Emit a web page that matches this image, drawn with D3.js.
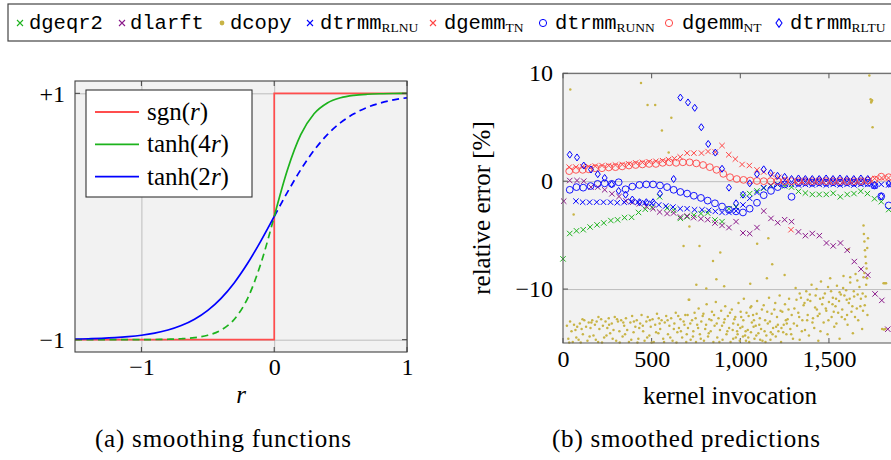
<!DOCTYPE html>
<html>
<head>
<meta charset="utf-8">
<script src="https://cdn.jsdelivr.net/npm/d3@7"></script>
<style>
body { margin: 0; background: #fff; }
svg { display: block; }
</style>
</head>
<body>
<script>
// ---------- data: (a) smoothing functions ----------
var rVals  = [-1.5,-1.4,-1.3,-1.2,-1.1,-1.0,-0.9,-0.8,-0.7,-0.6,-0.5,-0.4,-0.3,-0.2,-0.1,0,0.1,0.2,0.3,0.4,0.5,0.6,0.7,0.8,0.9,1.0];
var tanh4v = [-1.0,-1.0,-0.9999,-0.9999,-0.9997,-0.9993,-0.9985,-0.9967,-0.9926,-0.9837,-0.964,-0.9217,-0.8337,-0.664,-0.3799,0,0.3799,0.664,0.8337,0.9217,0.964,0.9837,0.9926,0.9967,0.9985,0.9993];
var tanh2v = [-0.9951,-0.9926,-0.989,-0.9837,-0.9757,-0.964,-0.9468,-0.9217,-0.8854,-0.8337,-0.7616,-0.664,-0.537,-0.3799,-0.1974,0,0.1974,0.3799,0.537,0.664,0.7616,0.8337,0.8854,0.9217,0.9468,0.964];
var sgnR = [-1.5, 0, 0, 1];
var sgnV = [-1, -1, 1, 1];
var fnTicksX = [-1, 0, 1], fnTickLabX = ["\u22121", "0", "1"];
var fnTicksY = [-1, 1],    fnTickLabY = ["\u22121", "+1"];

// ---------- data: (b) smoothed predictions ----------
var errTicksX = [0, 500, 1000, 1500], errTickLabX = ["0", "500", "1,000", "1,500"];
var errTicksY = [-10, 0, 10],         errTickLabY = ["\u221210", "0", "10"];

var geqr2X = [0,38,76,114,153,192,230,270,308,347,387,426,464,503,545,587,624,662,700,738,778,816,857,897,936,976,1015,1053,1094,1132,1173,1211,1250,1289,1328,1367,1406,1445,1485,1524,1564,1603,1641,1679,1717,1757,1795,1837];
var geqr2Y = [-7.2,-4.85,-4.6,-4.5,-4.25,-4.05,-3.87,-3.65,-3.58,-3.38,-3.35,-2.9,-2.6,-2.42,-1.45,-2.5,-2.7,-3.45,-3.3,-3.15,-3.0,-2.95,-3.6,-3.75,-2.55,-2.4,-1.3,-1.15,-0.9,-0.65,-0.4,-0.3,-0.45,-0.55,-0.95,-1.1,-1.23,-1.23,-1.23,-1.12,-1.45,-1.23,-1.15,-0.93,-1.15,-1.63,-1.9,-2.63];

var larftX = [4,38,79,117,158,196,235,276,316,355,393,431,470,508,545,587,624,662,700,737,778,816,857,897,936,976,1015,1053,1094,1132,1173,1211,1250,1289,1328,1367,1406,1446,1486,1524,1565,1603,1643,1681,1719,1760,1798,1832];
var larftY = [-1.85,0.06,0.06,0.0,-0.55,-0.55,-0.8,-1.17,-1.42,-1.85,-1.95,-2.1,-2.34,-2.55,-2.86,-3.0,-2.95,-3.32,-3.23,-3.38,-3.48,-3.57,-3.88,-4.1,-4.3,-3.75,-4.8,-4.86,-4.3,-2.77,-3.45,-3.85,-3.57,-3.75,-4.7,-5.05,-4.85,-5.05,-5.73,-6.0,-5.73,-6.4,-7.45,-8.15,-8.7,-10.45,-11.05,-13.72];

var rlnuX = [73,111,150,190,228,268,306,345,384,423,462,500,540,580,620,661,700,742,784,822,859,897,936,976,1015,1053,1094,1132,1171,1210,1250,1289,1328,1367,1406,1445,1485,1524,1563,1602,1641,1680,1719,1757,1795,1837];
var rlnuY = [-1.85,-1.95,-1.95,-1.95,-1.95,-1.95,-2.0,-1.95,-1.9,-1.95,-2.0,-2.05,-2.2,-2.3,-2.4,-2.55,-2.55,-2.65,-2.65,-2.7,-2.8,-2.9,-2.9,-2.75,-2.2,-1.6,-1.05,-0.6,-0.4,-0.3,-0.25,-0.3,-0.35,-0.3,-0.35,-0.3,-0.35,-0.3,-0.35,-0.3,-0.35,-0.3,-0.3,-0.45,-0.3,-0.35];

var gemmTNX = [35,73,111,145,182,220,258,296,334,372,410,448,486,524,562,595,628,661,700,738,781,818,859,897,935,972,1010,1051,1094,1132,1179,1217,1254,1286,1328,1367,1406,1445,1484,1523,1562,1601,1640,1680,1719,1758,1797,1836];
var gemmTNY = [1.3,1.3,1.35,1.35,1.4,1.45,1.45,1.5,1.55,1.6,1.7,1.75,1.8,1.85,1.9,2.0,2.1,2.25,2.6,2.6,2.6,2.75,2.7,3.3,2.45,2.05,1.55,1.45,1.05,0.85,0.6,0.35,0.15,-4.5,0.05,0.05,0.0,0.05,0.05,0.0,0.05,0.05,0.0,0.05,0.05,0.25,0.3,0.3];

var runnX = [38,76,114,155,195,235,275,314,353,391,431,470,508,547,587,624,662,700,738,778,816,857,897,936,976,1015,1053,1094,1132,1173,1211,1250,1289,1328,1367,1406,1445,1484,1523,1562,1601,1640,1680,1719,1757,1795,1837];
var runnY = [-0.8,-0.55,-0.6,-0.45,-0.25,-0.2,-0.25,-0.1,-0.75,-0.5,-0.35,-0.3,-0.3,-0.4,-0.55,-0.8,-1.0,-1.15,-1.35,-1.55,-1.8,-2.05,-2.35,-2.65,-2.8,-2.9,-2.55,-2.0,-1.3,-0.9,-0.55,-0.3,-1.45,-0.15,-0.1,-0.15,-0.1,-0.15,-0.1,-0.15,-0.1,-0.15,-0.1,-0.15,-0.4,-1.4,-2.25];

var gemmNTX = [35,73,111,145,182,220,258,296,334,372,410,448,486,524,562,600,638,676,714,752,790,828,866,904,942,980,1018,1056,1094,1132,1171,1210,1250,1289,1328,1367,1406,1445,1484,1523,1562,1601,1640,1680,1719,1757,1795,1837];
var gemmNTY = [0.93,1.05,1.05,1.1,1.2,1.2,1.27,1.3,1.37,1.45,1.5,1.55,1.6,1.6,1.7,1.75,1.7,1.75,1.75,1.65,1.5,1.3,1.05,0.68,0.37,0.2,0.12,0.06,0.02,0.0,0.0,0.0,0.0,0.0,0.0,0.0,0.0,0.0,0.0,0.0,0.0,0.0,0.0,0.0,0.05,0.15,0.42,0.37];

var rltuX = [38,79,117,158,196,235,274,314,353,391,431,470,508,547,624,662,705,743,780,819,859,897,936,976,1015,1053,1094,1132,1171,1210,1250,1289,1328,1367,1406,1445,1484,1523,1562,1601,1640,1680,1719,1757,1795,1837];
var rltuY = [2.46,2.2,1.45,1.08,0.65,0.3,-0.3,-0.9,-1.25,-1.7,-1.95,-1.95,-1.95,-1.15,0.2,7.75,7.3,6.8,5.0,3.45,2.65,1.15,-0.6,-2.05,-1.25,-0.2,0.65,1.1,0.75,0.5,0.4,0.2,0.25,0.2,0.2,0.2,0.25,0.2,0.25,0.2,0.2,0.25,0.2,-0.35,-1.4,-0.25];

// dcopy: scattered measurements [invocation, error]
var dcopyPts = [
 [22,-13.4],[30,-14.6],[40,-13.0],[48,-13.9],[55,-14.9],[62,-13.3],[70,-13.8],[80,-13.5],[88,-14.7],[95,-13.2],
 [105,-13.7],[112,-14.2],[120,-12.9],[130,-13.5],[138,-14.8],[145,-13.1],[155,-13.6],[165,-12.9],[172,-14.3],[180,-13.3],
 [190,-13.0],[198,-14.9],[205,-13.7],[215,-12.8],[225,-13.4],[232,-14.5],[240,-13.0],[250,-13.6],[258,-12.7],[266,-14.1],
 [275,-13.2],[285,-13.8],[292,-12.6],[300,-14.8],[310,-13.0],[318,-13.9],[328,-12.9],[336,-14.4],[345,-13.4],[355,-12.7],
 [362,-13.8],[372,-14.9],[380,-13.1],[390,-12.5],[398,-14.0],[408,-13.5],[416,-12.9],[425,-14.6],[435,-13.2],[443,-12.4],
 [452,-13.9],[460,-14.8],[470,-13.0],[478,-12.6],[487,-14.3],[495,-13.5],[505,-12.8],[512,-14.9],[520,-13.3],[530,-12.3],
 [538,-14.1],[548,-13.7],[556,-12.9],[565,-14.6],[574,-13.1],[582,-12.5],[592,-14.2],[600,-13.4],[610,-12.7],[618,-14.8],
 [628,-13.2],[636,-12.2],[645,-14.0],[654,-13.6],[662,-12.8],[672,-14.5],[680,-13.0],[690,-12.4],[698,-14.2],
 [35,-14.95],[75,-14.5],[100,-14.95],[150,-14.4],[185,-14.7],[220,-14.95],[245,-14.3],[280,-14.6],[320,-14.95],[350,-14.2],
 [385,-14.7],[420,-14.95],[450,-13.4],[475,-14.5],[500,-14.95],[525,-14.0],[545,-13.2],[570,-14.9],[605,-14.5],[640,-14.95],
 [665,-13.9],[695,-14.9],[110,-12.8],[160,-13.1],[200,-12.6],[260,-13.3],[305,-12.8],[340,-13.1],[400,-13.0],[430,-13.6],
 [490,-12.9],[540,-12.7],[590,-12.9],[625,-13.7],[650,-12.5],[685,-13.3],
 [705,-13.6],[712,-11.0],[720,-14.7],[728,-12.9],[735,-13.9],[742,-12.2],[750,-14.9],[757,-13.3],[765,-11.8],[772,-14.2],
 [780,-13.0],[788,-12.5],[795,-14.8],[802,-13.7],[810,-11.4],[818,-14.4],[825,-12.8],[833,-13.9],[840,-12.1],[848,-14.9],
 [855,-13.4],[862,-11.2],[870,-14.5],[877,-12.7],[885,-13.8],[892,-12.0],[900,-14.7],[908,-13.1],[915,-11.6],[922,-14.2],
 [930,-12.5],[937,-13.6],[945,-14.9],[952,-11.9],[960,-13.2],[967,-12.8],[975,-14.5],[982,-13.9],[990,-11.3],[997,-14.8],
 [1005,-12.6],[1012,-13.5],[1020,-10.9],[1027,-14.3],[1035,-12.2],[1042,-13.8],[1050,-14.9],[1057,-11.7],[1065,-13.1],[1072,-12.4],
 [1080,-14.6],[1087,-13.4],[1095,-11.1],[1102,-14.1],[1110,-12.7],[1117,-13.7],[1125,-14.8],[1132,-11.5],[1140,-12.9],[1147,-14.3],
 [1155,-13.2],[1162,-10.8],[1170,-14.7],[1177,-12.3],[1185,-13.6],[1192,-11.9],[1200,-14.4],[1207,-12.6],[1215,-13.9],[1222,-10.6],
 [1230,-14.9],[1237,-12.1],[1245,-13.3],[1252,-11.4],[1260,-14.2],[1267,-12.8],[1275,-10.9],[1282,-13.7],[1290,-12.4],[1297,-14.6],
 [960,-14.6],[985,-14.2],[1000,-13.6],[1015,-14.4],[1030,-13.9],[1045,-14.5],[1060,-14.0],[1075,-13.5],[1090,-14.3],
 [703,-12.4],[718,-13.2],[733,-14.4],[748,-12.7],[762,-13.6],[777,-14.6],[792,-12.3],[807,-13.3],[822,-14.1],[837,-12.9],
 [852,-12.4],[867,-13.2],[882,-14.9],[897,-13.4],[912,-12.8],[927,-13.9],[942,-12.2],[957,-13.8],[972,-12.6],[987,-13.3],
 [1002,-12.1],[1017,-12.9],[1032,-14.8],[1047,-12.5],[1062,-11.6],[1077,-12.9],[1092,-12.3],[1107,-13.3],[1122,-11.9],[1137,-13.9],
 [1152,-12.1],[1167,-13.0],[1182,-14.2],[1197,-11.3],[1212,-13.3],[1227,-12.0],[1242,-14.0],[1257,-12.9],[1272,-11.9],[1287,-14.2],
 [1112,-14.7],[1142,-14.9],[1172,-14.0],[1202,-13.5],[1232,-13.6],[1262,-13.2],
 [1305,-11.8],[1312,-9.9],[1320,-13.4],[1327,-12.2],[1335,-14.7],[1342,-10.8],[1350,-12.9],[1357,-11.5],[1365,-13.8],[1372,-10.2],
 [1380,-12.4],[1387,-14.3],[1395,-11.1],[1402,-9.6],[1410,-12.7],[1417,-13.6],[1425,-10.6],[1432,-11.9],[1440,-14.8],[1447,-12.3],
 [1455,-9.3],[1462,-11.4],[1470,-13.1],[1477,-10.4],[1485,-12.0],[1492,-14.2],[1500,-11.2],[1507,-9.0],[1515,-12.6],[1522,-10.8],
 [1530,-13.5],[1537,-11.6],[1545,-9.7],[1552,-12.2],[1560,-14.6],[1567,-10.5],[1575,-11.9],[1582,-8.8],[1590,-12.8],[1597,-10.1],
 [1605,-13.3],[1612,-11.3],[1620,-9.4],[1627,-12.1],[1635,-14.1],[1642,-10.7],[1650,-8.6],[1657,-11.8],[1665,-12.9],[1672,-9.8],
 [1680,-10.9],[1687,-13.7],[1695,-8.9],[1702,-11.5],[1710,-9.6],[1717,-12.4],
 [1450,-10.9],[1520,-11.4],[1560,-10.3],[1600,-11.0],[1640,-10.2],[1690,-10.4],
 [1302,-13.2],[1317,-11.0],[1332,-12.6],[1347,-13.9],[1362,-11.3],[1377,-12.9],[1392,-10.5],[1407,-13.1],[1422,-11.7],[1437,-12.5],
 [1452,-13.9],[1467,-10.8],[1482,-11.8],[1497,-12.9],[1512,-10.2],[1527,-12.1],[1542,-13.2],[1557,-11.1],[1572,-12.6],[1587,-10.6],
 [1602,-12.4],[1617,-10.9],[1632,-11.6],[1647,-12.6],[1662,-10.5],[1677,-11.6],[1692,-12.0],[1707,-10.7],[1715,-9.0],[1660,-9.2],
 [1620,-8.9],[1580,-9.9],[1540,-10.9],[1495,-9.8],[1430,-10.0],[1380,-11.0],[1335,-10.4],
 [1695,-4.1],[1697,-4.9],[1700,-5.6],[1703,-6.4],[1706,-7.0],[1709,-7.6],[1712,-8.1],[1700,-8.5],[1716,-6.2],[1720,-5.3],
 [1728,9.8],[1735,7.6],[1740,7.4],[1743,7.5],[1738,7.3],[1746,5.0],
 [1808,-9.45],[1815,-9.45],[1822,-9.45],[1800,-13.7],[1810,-13.75],[1818,-13.7],
 [41,8.5],[440,9.1],[477,7.07],[520,7.07],[558,4.7],[611,5.87],[596,2.65],[60,-3.1],[680,-6.0],[770,-6.0],
 [887,-6.6],[846,-7.4],[1095,-5.8],[1158,-5.3],[1180,-7.7],[1250,-8.7],[1150,-9.0],[1056,-9.5],[865,-9.1],[752,-9.6],
 [808,-9.95],[909,-9.75],[709,-11.0],[713,-4.2],[1611,-6.3]
];

// ---------- colours ----------
var cGreen = "#1db31d", cPurple = "#8b1a8b", cGold = "#c8b446",
    cBlue = "#0000ff", cRed = "#ff4545", cRedLine = "#ff4d4d";
var serif = "Liberation Serif", mono = "Liberation Mono";

var svg = d3.select("body").append("svg")
    .attr("width", 891).attr("height", 460)
    .attr("font-family", serif);

function crossPath(s){ return "M"+(-s)+","+(-s)+"L"+s+","+s+"M"+(-s)+","+s+"L"+s+","+(-s); }
function diamondPath(w,h){ return "M0,"+(-h)+"L"+w+",0L0,"+h+"L"+(-w)+",0Z"; }

// ======================= (a) smoothing functions =======================
var fnBox = {left: 75, right: 407, top: 81, bottom: 352};
var xF = d3.scaleLinear().domain([-1.5, 1]).range([fnBox.left, fnBox.right]);
var yF = d3.scaleLinear().domain([-1.1, 1.1]).range([fnBox.bottom, fnBox.top]);

var fn = svg.append("g").attr("id", "fnPanel");
fn.append("rect")
    .attr("x", fnBox.left).attr("y", fnBox.top)
    .attr("width", fnBox.right - fnBox.left).attr("height", fnBox.bottom - fnBox.top)
    .attr("fill", "#f2f2f2");

// grid
fn.append("g").attr("transform", "translate(0," + fnBox.bottom + ")")
    .call(d3.axisBottom(xF).tickValues(fnTicksX).tickSize(-(fnBox.bottom - fnBox.top)).tickFormat(""))
    .call(function(g){ g.select(".domain").remove(); })
    .selectAll("line").attr("stroke", "#bdbdbd").attr("stroke-width", 1);
fn.append("g").attr("transform", "translate(" + fnBox.left + ",0)")
    .call(d3.axisLeft(yF).tickValues(fnTicksY).tickSize(-(fnBox.right - fnBox.left)).tickFormat(""))
    .call(function(g){ g.select(".domain").remove(); })
    .selectAll("line").attr("stroke", "#bdbdbd").attr("stroke-width", 1);

var fnLine = d3.line().x(function(d){ return xF(d[0]); }).y(function(d){ return yF(d[1]); });
var fnCurve = d3.line().curve(d3.curveMonotoneX).x(function(d){ return xF(d[0]); }).y(function(d){ return yF(d[1]); });

var sgnPts = d3.zip(sgnR, sgnV),
    t4Pts = d3.zip(rVals, tanh4v),
    t2Pts = d3.zip(rVals, tanh2v);

fn.append("path").attr("d", fnLine(sgnPts))
    .attr("fill", "none").attr("stroke", cRedLine).attr("stroke-width", 1.7);
fn.append("path").attr("d", fnCurve(t4Pts.filter(function(d){ return d[0] <= 0; })))
    .attr("fill", "none").attr("stroke", cGreen).attr("stroke-width", 1.7).attr("stroke-dasharray", "7,4.5");
fn.append("path").attr("d", fnCurve(t2Pts.filter(function(d){ return d[0] >= 0; })))
    .attr("fill", "none").attr("stroke", cBlue).attr("stroke-width", 1.7).attr("stroke-dasharray", "7,4.5");
fn.append("path").attr("d", fnCurve(t4Pts.filter(function(d){ return d[0] >= 0; })))
    .attr("fill", "none").attr("stroke", cGreen).attr("stroke-width", 1.7);
fn.append("path").attr("d", fnCurve(t2Pts.filter(function(d){ return d[0] <= 0; })))
    .attr("fill", "none").attr("stroke", cBlue).attr("stroke-width", 1.7);

// inner tick marks on all sides
var fnTickG = fn.append("g").attr("stroke", "#404040").attr("stroke-width", 1);
fnTicksX.forEach(function(t){
    fnTickG.append("line").attr("x1", xF(t)).attr("x2", xF(t)).attr("y1", fnBox.bottom).attr("y2", fnBox.bottom - 5);
    fnTickG.append("line").attr("x1", xF(t)).attr("x2", xF(t)).attr("y1", fnBox.top).attr("y2", fnBox.top + 5);
});
fnTicksY.forEach(function(t){
    fnTickG.append("line").attr("y1", yF(t)).attr("y2", yF(t)).attr("x1", fnBox.left).attr("x2", fnBox.left + 5);
    fnTickG.append("line").attr("y1", yF(t)).attr("y2", yF(t)).attr("x1", fnBox.right).attr("x2", fnBox.right - 5);
});
fn.append("rect")
    .attr("x", fnBox.left).attr("y", fnBox.top)
    .attr("width", fnBox.right - fnBox.left).attr("height", fnBox.bottom - fnBox.top)
    .attr("fill", "none").attr("stroke", "#404040").attr("stroke-width", 1.1);

// tick labels
fn.append("g").attr("transform", "translate(0," + fnBox.bottom + ")")
    .call(d3.axisBottom(xF).tickValues(fnTicksX).tickSize(0).tickPadding(6)
        .tickFormat(function(d, i){ return fnTickLabX[i]; }))
    .call(function(g){ g.select(".domain").remove(); })
    .selectAll("text").attr("font-family", serif).attr("font-size", 24).attr("fill", "#000");
fn.append("g").attr("transform", "translate(" + fnBox.left + ",0)")
    .call(d3.axisLeft(yF).tickValues(fnTicksY).tickSize(0).tickPadding(10)
        .tickFormat(function(d, i){ return fnTickLabY[i]; }))
    .call(function(g){ g.select(".domain").remove(); })
    .selectAll("text").attr("font-family", serif).attr("font-size", 24).attr("fill", "#000");

fn.append("text").attr("x", 241).attr("y", 403).attr("text-anchor", "middle")
    .attr("font-family", serif).attr("font-size", 25).attr("font-style", "italic").text("r");

// legend
var fnLeg = fn.append("g").attr("transform", "translate(86,90)");
fnLeg.append("rect").attr("width", 166).attr("height", 107)
    .attr("fill", "#fff").attr("stroke", "#333").attr("stroke-width", 1.1);
var fnLegItems = [
    {pre: "sgn(", post: ")", color: cRedLine},
    {pre: "tanh(4", post: ")", color: cGreen},
    {pre: "tanh(2", post: ")", color: cBlue}
];
fnLegItems.forEach(function(it, i){
    var yy = 22 + i * 32.3;
    fnLeg.append("line").attr("x1", 9).attr("x2", 53).attr("y1", yy).attr("y2", yy)
        .attr("stroke", it.color).attr("stroke-width", 1.8);
    var t = fnLeg.append("text").attr("x", 61).attr("y", yy + 8)
        .attr("font-family", serif).attr("font-size", 25);
    t.append("tspan").text(it.pre);
    t.append("tspan").attr("font-style", "italic").text("r");
    t.append("tspan").text(it.post);
});

svg.append("text").attr("x", 223).attr("y", 447).attr("text-anchor", "middle")
    .attr("font-family", serif).attr("font-size", 25).attr("textLength", 256).attr("lengthAdjust", "spacing")
    .text("(a) smoothing functions");

// ======================= (b) smoothed predictions =======================
var errBox = {left: 563, top: 73.3, bottom: 343};
var xE = d3.scaleLinear().domain([0, 2000]).range([errBox.left, errBox.left + 354.6]);
var yE = d3.scaleLinear().domain([-15, 10]).range([errBox.bottom, errBox.top]);
var errW = 354.6, errH = errBox.bottom - errBox.top;

var er = svg.append("g").attr("id", "errPanel");
er.append("rect").attr("x", errBox.left).attr("y", errBox.top)
    .attr("width", errW).attr("height", errH).attr("fill", "#f2f2f2");
er.append("g").attr("transform", "translate(" + errBox.left + ",0)")
    .call(d3.axisLeft(yE).tickValues(errTicksY).tickSize(-errW).tickFormat(""))
    .call(function(g){ g.select(".domain").remove(); })
    .selectAll("line").attr("stroke", "#bdbdbd").attr("stroke-width", 1);

// tick marks
var erTickG = er.append("g").attr("stroke", "#555").attr("stroke-width", 1);
errTicksX.forEach(function(t){
    erTickG.append("line").attr("x1", xE(t)).attr("x2", xE(t)).attr("y1", errBox.bottom).attr("y2", errBox.bottom - 5);
    erTickG.append("line").attr("x1", xE(t)).attr("x2", xE(t)).attr("y1", errBox.top).attr("y2", errBox.top + 5);
});
errTicksY.forEach(function(t){
    erTickG.append("line").attr("y1", yE(t)).attr("y2", yE(t)).attr("x1", errBox.left).attr("x2", errBox.left + 5);
});

// dcopy dots
er.append("g").selectAll("circle").data(dcopyPts).enter().append("circle")
    .attr("cx", function(d){ return xE(d[0]); })
    .attr("cy", function(d){ return yE(d[1]); })
    .attr("r", 1.25).attr("fill", cGold);

var series = [
    {xs: geqr2X, ys: geqr2Y, shape: "cross", color: cGreen},
    {xs: larftX, ys: larftY, shape: "cross", color: cPurple},
    {xs: rlnuX, ys: rlnuY, shape: "cross", color: cBlue},
    {xs: gemmTNX, ys: gemmTNY, shape: "cross", color: cRed},
    {xs: runnX, ys: runnY, shape: "circle", color: cBlue},
    {xs: gemmNTX, ys: gemmNTY, shape: "circle", color: cRed},
    {xs: rltuX, ys: rltuY, shape: "diamond", color: cBlue}
];
function markPath(shape){
    if (shape === "cross") return crossPath(2.7);
    if (shape === "diamond") return diamondPath(2.5, 3.5);
    return null;
}
series.forEach(function(s){
    var pts = d3.zip(s.xs, s.ys);
    var g = er.append("g");
    if (s.shape === "circle") {
        g.selectAll("circle").data(pts).enter().append("circle")
            .attr("cx", function(d){ return xE(d[0]); })
            .attr("cy", function(d){ return yE(d[1]); })
            .attr("r", 3.4).attr("fill", "none")
            .attr("stroke", s.color).attr("stroke-width", 0.9);
    } else {
        g.selectAll("path").data(pts).enter().append("path")
            .attr("transform", function(d){ return "translate(" + xE(d[0]) + "," + yE(d[1]) + ")"; })
            .attr("d", markPath(s.shape)).attr("fill", "none")
            .attr("stroke", s.color).attr("stroke-width", 1);
    }
});

// frame (right edge is off the page)
er.append("path")
    .attr("d", "M" + (errBox.left + errW) + "," + errBox.top + "H" + errBox.left + "V" + errBox.bottom + "H" + (errBox.left + errW))
    .attr("fill", "none").attr("stroke", "#555").attr("stroke-width", 1.1);

er.append("g").attr("transform", "translate(0," + errBox.bottom + ")")
    .call(d3.axisBottom(xE).tickValues(errTicksX).tickSize(0).tickPadding(7)
        .tickFormat(function(d, i){ return errTickLabX[i]; }))
    .call(function(g){ g.select(".domain").remove(); })
    .selectAll("text").attr("font-family", serif).attr("font-size", 24).attr("fill", "#000");
er.append("g").attr("transform", "translate(" + errBox.left + ",0)")
    .call(d3.axisLeft(yE).tickValues(errTicksY).tickSize(0).tickPadding(10)
        .tickFormat(function(d, i){ return errTickLabY[i]; }))
    .call(function(g){ g.select(".domain").remove(); })
    .selectAll("text").attr("font-family", serif).attr("font-size", 24).attr("fill", "#000");

er.append("text").attr("x", 730).attr("y", 404).attr("text-anchor", "middle")
    .attr("font-family", serif).attr("font-size", 25).text("kernel invocation");
er.append("text").attr("transform", "translate(490,208) rotate(-90)").attr("text-anchor", "middle")
    .attr("font-family", serif).attr("font-size", 25).text("relative error [%]");

svg.append("text").attr("x", 686).attr("y", 447).attr("text-anchor", "middle")
    .attr("font-family", serif).attr("font-size", 25).attr("textLength", 268).attr("lengthAdjust", "spacing")
    .text("(b) smoothed predictions");

// ======================= top legend =======================
var legItems = [
    {name: "dgeqr2", sub: "",     shape: "cross",   color: cGreen,  mx: 20,  tx: 29},
    {name: "dlarft", sub: "",     shape: "cross",   color: cPurple, mx: 122, tx: 130},
    {name: "dcopy",  sub: "",     shape: "dot",     color: cGold,   mx: 222, tx: 230},
    {name: "dtrmm",  sub: "RLNU", shape: "cross",   color: cBlue,   mx: 310, tx: 320},
    {name: "dgemm",  sub: "TN",   shape: "cross",   color: cRed,    mx: 433, tx: 444},
    {name: "dtrmm",  sub: "RUNN", shape: "circle",  color: cBlue,   mx: 543, tx: 555},
    {name: "dgemm",  sub: "NT",   shape: "circle",  color: cRed,    mx: 669, tx: 682},
    {name: "dtrmm",  sub: "RLTU", shape: "diamond", color: cBlue,   mx: 779, tx: 790}
];
var leg = svg.append("g").attr("id", "topLegend");
leg.append("rect").attr("x", 8).attr("y", 4).attr("width", 900).attr("height", 37)
    .attr("fill", "#fff").attr("stroke", "#444").attr("stroke-width", 1.2);
legItems.forEach(function(it){
    var my = 23;
    if (it.shape === "circle") {
        leg.append("circle").attr("cx", it.mx).attr("cy", my).attr("r", 3.6)
            .attr("fill", "none").attr("stroke", it.color).attr("stroke-width", 1);
    } else if (it.shape === "dot") {
        leg.append("circle").attr("cx", it.mx).attr("cy", my).attr("r", 2.4).attr("fill", it.color);
    } else {
        leg.append("path").attr("transform", "translate(" + it.mx + "," + my + ")")
            .attr("d", it.shape === "cross" ? crossPath(3) : diamondPath(3, 4.2))
            .attr("fill", "none").attr("stroke", it.color).attr("stroke-width", 1.1);
    }
    var t = leg.append("text").attr("x", it.tx).attr("y", 28.5);
    t.append("tspan").attr("font-family", mono).attr("font-size", 20.5).text(it.name);
    if (it.sub) {
        t.append("tspan").attr("font-family", serif).attr("font-size", 13.5)
            .attr("dy", 3).text(it.sub);
    }
});
</script>
</body>
</html>
